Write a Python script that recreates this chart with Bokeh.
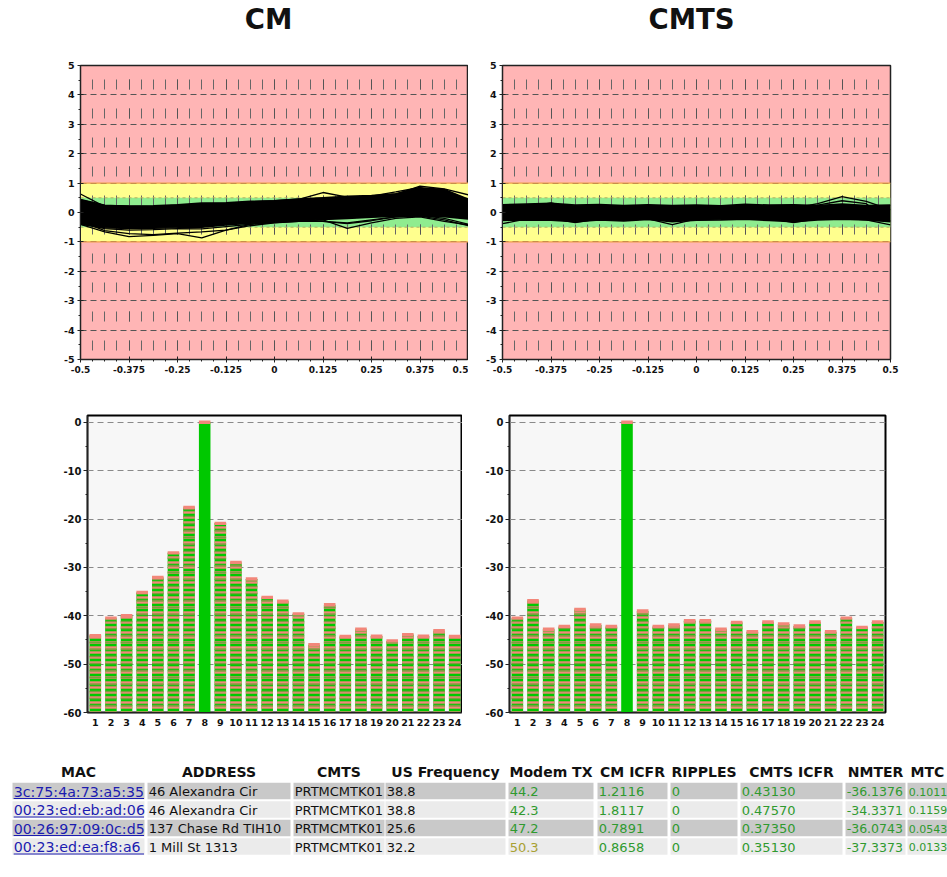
from bokeh.plotting import figure
from bokeh.layouts import column, row
from bokeh.models import Range1d, FixedTicker, BoxAnnotation, Span, ColumnDataSource
from bokeh.embed import file_html
from bokeh.resources import INLINE
from bokeh.core.properties import value, field

# ------------------------------------------------------------------ data
TITLES = ["CM", "CMTS"]

EQ_X = [-0.5, -0.4375, -0.375, -0.3125, -0.25, -0.1875, -0.125, -0.0625, 0.0,
        0.0625, 0.125, 0.1875, 0.25, 0.3125, 0.375, 0.4375, 0.5]

CM_UPPER = [0.42, 0.24, 0.22, 0.23, 0.26, 0.32, 0.33, 0.38, 0.40, 0.46, 0.50, 0.55, 0.58, 0.64, 0.84, 0.78, 0.45]
CM_LOWER = [-0.40, -0.52, -0.54, -0.53, -0.52, -0.50, -0.42, -0.36, -0.32, -0.28, -0.24, -0.20, -0.16, -0.13, -0.12, -0.14, -0.22]
CM_OUTLIERS = [
    [-0.30, -0.62, -0.72, -0.75, -0.70, -0.66, -0.60, -0.45, -0.35, -0.30, -0.30, -0.35, -0.25, -0.15, -0.10, -0.20, -0.40],
    [-0.40, -0.66, -0.82, -0.78, -0.72, -0.86, -0.60, -0.40, -0.34, -0.30, -0.25, -0.54, -0.35, -0.20, -0.15, -0.30, -0.42],
    [0.63, 0.20, 0.18, 0.20, 0.22, 0.30, 0.28, 0.36, 0.40, 0.45, 0.68, 0.52, 0.55, 0.62, 0.90, 0.80, 0.60],
    [0.45, 0.25, 0.22, 0.20, 0.25, 0.22, 0.30, 0.35, 0.38, 0.42, 0.50, 0.50, 0.56, 0.70, 0.85, 0.62, 0.45],
    [-0.38, -0.55, -0.60, -0.58, -0.55, -0.56, -0.48, -0.40, -0.32, -0.28, -0.30, -0.38, -0.28, -0.15, -0.12, -0.25, -0.45],
]

CMTS_UPPER = [0.26, 0.29, 0.31, 0.25, 0.27, 0.24, 0.26, 0.24, 0.25, 0.23, 0.28, 0.25, 0.26, 0.24, 0.29, 0.24, 0.25]
CMTS_LOWER = [-0.27, -0.25, -0.26, -0.31, -0.25, -0.29, -0.24, -0.31, -0.26, -0.25, -0.23, -0.27, -0.31, -0.25, -0.23, -0.25, -0.31]
CMTS_OUTLIERS = [
    [-0.38, -0.22, -0.20, -0.34, -0.22, -0.20, -0.22, -0.41, -0.22, -0.20, -0.22, -0.20, -0.34, -0.22, -0.20, -0.25, -0.42],
    [0.15, 0.12, 0.12, 0.12, 0.10, 0.12, 0.10, 0.12, 0.10, 0.12, 0.12, 0.15, 0.15, 0.30, 0.54, 0.38, 0.10],
    [0.10, 0.18, 0.33, 0.15, 0.12, 0.15, 0.15, 0.12, 0.18, 0.15, 0.15, 0.12, 0.20, 0.25, 0.40, 0.30, -0.30],
]

EQ_TICKS = [-0.5, -0.375, -0.25, -0.125, 0.0, 0.125, 0.25, 0.375, 0.5]
EQ_TICK_LABELS = ["-0.5", "-0.375", "-0.25", "-0.125", "0", "0.125", "0.25", "0.375", "0.5"]
EQ_Y_TICKS = [-5, -4, -3, -2, -1, 0, 1, 2, 3, 4, 5]
EQ_Y_LABELS = ["-5", "-4", "-3", "-2", "-1", "0", "1", "2", "3", "4", "5"]

TAPS = list(range(1, 25))
CM_TAPS = [-44.1, -40.5, -40.0, -35.2, -32.1, -27.0, -17.6, 0.0, -20.9, -29.0, -32.4, -36.2,
           -37.0, -39.6, -46.0, -37.7, -44.3, -42.8, -44.2, -45.2, -43.9, -44.2, -43.1, -44.3]
CMTS_TAPS = [-40.5, -36.9, -42.8, -42.2, -38.7, -41.9, -42.2, 0.0, -39.0, -42.2, -41.9, -41.0,
             -41.0, -42.8, -41.4, -43.3, -41.3, -41.7, -42.1, -41.3, -43.3, -40.5, -42.4, -41.3]
MAIN_TAP = 8
TAP_Y_TICKS = [-60, -50, -40, -30, -20, -10, 0]
TAP_Y_LABELS = ["-60", "-50", "-40", "-30", "-20", "-10", "0"]

HEADERS = ["MAC", "ADDRESS", "CMTS", "US Frequency", "Modem TX", "CM ICFR", "RIPPLES", "CMTS ICFR", "NMTER", "MTC"]
MAC = ["3c:75:4a:73:a5:35", "00:23:ed:eb:ad:06", "00:26:97:09:0c:d5", "00:23:ed:ea:f8:a6"]
ADDRESS = ["46 Alexandra Cir", "46 Alexandra Cir", "137 Chase Rd TIH10", "1 Mill St 1313"]
CMTS_NAME = ["PRTMCMTK01", "PRTMCMTK01", "PRTMCMTK01", "PRTMCMTK01"]
US_FREQ = ["38.8", "38.8", "25.6", "32.2"]
MODEM_TX = ["44.2", "42.3", "47.2", "50.3"]
CM_ICFR = ["1.2116", "1.8117", "0.7891", "0.8658"]
RIPPLES = ["0", "0", "0", "0"]
CMTS_ICFR = ["0.43130", "0.47570", "0.37350", "0.35130"]
NMTER = ["-36.1376", "-34.3371", "-36.0743", "-37.3373"]
MTC = ["0.1011", "0.1159", "0.0543", "0.0133"]

# ------------------------------------------------------------------ style
FONT = "DejaVu Sans"
PINK = "#ffb5b5"
YELLOW = "#ffff8e"
LGREEN = "#8fec8f"
BAR_GREEN = "#00c800"
SALMON = "#f2877a"
OLIVE = "#7f9b3f"
PAGE_W = 947


def style_axis(ax, size):
    ax.major_label_text_font = FONT
    ax.major_label_text_font_style = "bold"
    ax.major_label_text_font_size = size
    ax.major_label_text_color = "#111111"
    ax.axis_line_color = "#222222"
    ax.major_tick_line_color = "#222222"
    ax.minor_tick_line_color = "#222222"


def title_fig():
    t = figure(width=PAGE_W, height=46, x_range=Range1d(0, PAGE_W), y_range=Range1d(46, 0),
               output_backend="svg", toolbar_location=None, min_border=0,
               x_axis_location=None, y_axis_location=None)
    t.grid.visible = False
    t.outline_line_color = None
    t.text(x=[268, 691], y=[18, 18], text=TITLES, text_align="center", text_baseline="middle",
           text_font=value(FONT), text_font_size="27.5px", text_font_style="bold",
           text_color="#111111")
    return t


def eq_chart(upper, lower, outliers, bl, br, width):
    p = figure(width=width, height=333, x_range=Range1d(-0.5, 0.5), y_range=Range1d(-5, 5),
               output_backend="svg", toolbar_location=None,
               min_border_left=bl, min_border_right=br, min_border_top=19, min_border_bottom=20)
    p.background_fill_color = PINK
    p.border_fill_color = "white"
    p.outline_line_color = "#222222"
    p.outline_line_width = 1.5
    p.add_layout(BoxAnnotation(bottom=-1, top=1, fill_color=YELLOW, fill_alpha=1.0,
                               line_color=None, level="image"))
    p.add_layout(BoxAnnotation(bottom=-0.5, top=0.5, fill_color=LGREEN, fill_alpha=1.0,
                               line_color=None, level="image"))
    for loc in (1, -1):
        p.add_layout(Span(location=loc, dimension="width", line_color="#f0a048",
                          line_width=1.2, level="underlay"))
    for loc in (0.5, -0.5):
        p.add_layout(Span(location=loc, dimension="width", line_color="#b8b060",
                          line_width=1, line_dash="3 3", level="underlay"))

    xt = FixedTicker(ticks=EQ_TICKS, minor_ticks=[i / 32 - 0.5 for i in range(33)])
    yt = FixedTicker(ticks=EQ_Y_TICKS, minor_ticks=[i / 2 - 5 for i in range(21)])
    p.xaxis.ticker = xt
    p.yaxis.ticker = yt
    p.xgrid.ticker = xt
    p.ygrid.ticker = yt
    p.xaxis.major_label_overrides = dict(zip(EQ_TICKS, EQ_TICK_LABELS))
    p.yaxis.major_label_overrides = dict(zip(EQ_Y_TICKS, EQ_Y_LABELS))

    p.xgrid.grid_line_color = "#555555"
    p.xgrid.grid_line_dash = "10 19"
    p.xgrid.grid_line_dash_offset = 20
    p.xgrid.minor_grid_line_color = "#666666"
    p.xgrid.minor_grid_line_dash = "10 19"
    p.xgrid.minor_grid_line_dash_offset = 20
    p.ygrid.grid_line_color = "#555555"
    p.ygrid.grid_line_dash = "6 4"

    style_axis(p.xaxis[0], "9px")
    style_axis(p.yaxis[0], "9.5px")
    for ax in (p.xaxis[0], p.yaxis[0]):
        ax.major_tick_in = 3
        ax.major_tick_out = 3
        ax.minor_tick_in = 0
        ax.minor_tick_out = 2
    p.xaxis.major_label_standoff = 3
    p.yaxis.major_label_standoff = 3

    p.varea(x=EQ_X, y1=lower, y2=upper, fill_color="black")
    p.line(x=EQ_X, y=upper, line_color="black", line_width=1.6)
    p.line(x=EQ_X, y=lower, line_color="black", line_width=1.6)
    p.multi_line(xs=[EQ_X] * len(outliers), ys=outliers, line_color="black", line_width=1.3)
    return p


def tap_chart(vals, bl, br, width):
    p = figure(width=width, height=355, x_range=Range1d(0.5, 24.5), y_range=Range1d(-60, 1.4),
               output_backend="svg", toolbar_location=None,
               min_border_left=bl, min_border_right=br, min_border_top=36, min_border_bottom=22)
    p.background_fill_color = "#f7f7f7"
    p.border_fill_color = "white"
    p.outline_line_color = "black"
    p.outline_line_width = 2
    hatch = [" " if t == MAIN_TAP else "-" for t in TAPS]
    src = ColumnDataSource(dict(x=TAPS, top=vals, hatch=hatch,
                                cap_top=[v + 0.35 for v in vals],
                                cap_bot=[v - 0.35 for v in vals]))
    p.vbar(x="x", top="top", bottom=-60, width=0.74, source=src,
           fill_color=BAR_GREEN, line_color=None)
    p.vbar(x="x", top="top", bottom=-60, width=0.74, source=src,
           fill_alpha=0, line_color=None, hatch_pattern=field("hatch"),
           hatch_color=SALMON, hatch_scale=5, hatch_weight=2.4)
    p.vbar(x="x", top="top", bottom=-60, width=0.74, source=src,
           fill_alpha=0, line_color=None, hatch_pattern=field("hatch"),
           hatch_color=OLIVE, hatch_scale=7, hatch_weight=1.5)
    p.vbar(x="x", top="cap_top", bottom="cap_bot", width=0.74, source=src,
           fill_color=SALMON, line_color=None)

    yt = FixedTicker(ticks=TAP_Y_TICKS, minor_ticks=[-55, -45, -35, -25, -15, -5])
    p.yaxis.ticker = yt
    p.ygrid.ticker = yt
    p.yaxis.major_label_overrides = dict(zip(TAP_Y_TICKS, TAP_Y_LABELS))
    p.xaxis.ticker = FixedTicker(ticks=TAPS, minor_ticks=[])
    p.xgrid.visible = False
    p.ygrid.grid_line_color = "#8a8a8a"
    p.ygrid.grid_line_dash = "6 4"
    style_axis(p.xaxis[0], "9.5px")
    style_axis(p.yaxis[0], "10px")
    p.xaxis.major_tick_in = 0
    p.xaxis.major_tick_out = 0
    p.xaxis.major_label_standoff = 6
    p.yaxis.major_tick_in = 0
    p.yaxis.major_tick_out = 4
    p.yaxis.minor_tick_in = 0
    p.yaxis.minor_tick_out = 2
    p.yaxis.major_label_standoff = 2
    return p


def table_fig():
    H = 143
    t = figure(width=PAGE_W, height=H, x_range=Range1d(0, PAGE_W), y_range=Range1d(H, 0),
               output_backend="svg", toolbar_location=None, min_border=0,
               x_axis_location=None, y_axis_location=None)
    t.grid.visible = False
    t.outline_line_color = None
    t.background_fill_color = "white"
    t.border_fill_color = "white"

    col_l = [12, 147, 293, 385, 508, 597, 670, 740, 845, 907]
    col_r = [144, 290, 384, 505, 593, 667, 737, 842, 905, 947]
    font_px = ["14.2px", "13px", "13px", "13px", "13px", "13px", "13px", "13px", "12.5px", "11px"]
    row_c = [56.5, 75, 93.5, 112]
    row_h = 16.5
    header_y = 37.5
    row_fill = ["#c9c9c9", "#ebebeb", "#c9c9c9", "#ebebeb"]

    columns = [MAC, ADDRESS, CMTS_NAME, US_FREQ, MODEM_TX, CM_ICFR, RIPPLES, CMTS_ICFR, NMTER, MTC]
    GREEN_T = "#2f9a2f"

    cx, cy, cw, cc = [], [], [], []
    tx, ty, tt, tc, ts = [], [], [], [], []
    for ci, vals in enumerate(columns):
        for ri, v in enumerate(vals):
            cx.append((col_l[ci] + col_r[ci]) / 2)
            cy.append(row_c[ri])
            cw.append(col_r[ci] - col_l[ci])
            cc.append(row_fill[ri])
            tx.append(col_l[ci] + 1.2)
            ty.append(row_c[ri] + 0.5)
            tt.append(v)
            ts.append(font_px[ci])
            if ci == 0:
                tc.append("#1c1cb0")
            elif ci in (1, 2, 3):
                tc.append("#111111")
            elif ci == 4 and float(v) > 50:
                tc.append("#a8a032")
            else:
                tc.append(GREEN_T)
    src = ColumnDataSource(dict(x=tx, y=ty, text=tt, color=tc, size=ts))
    t.rect(x=cx, y=cy, width=cw, height=row_h, fill_color=cc, line_color=None)
    t.text(x="x", y="y", text="text", text_color="color", text_font_size="size",
           text_font=value(FONT), text_baseline="middle", text_align="left", source=src)
    # link underline for MAC column
    t.segment(x0=[col_l[0] + 1.2] * len(MAC), x1=[col_r[0] - 0.5] * len(MAC),
              y0=[r + 7.5 for r in row_c], y1=[r + 7.5 for r in row_c],
              line_color="#1c1cb0", line_width=1)
    t.text(x=[(l + r) / 2 for l, r in zip(col_l, col_r)], y=[header_y] * len(HEADERS),
           text=HEADERS, text_color="#111111", text_font=value(FONT), text_font_style="bold",
           text_font_size="14px", text_baseline="middle", text_align="center")
    return t


p0 = title_fig()
p1 = eq_chart(CM_UPPER, CM_LOWER, CM_OUTLIERS, bl=80, br=0, width=468)
p2 = eq_chart(CMTS_UPPER, CMTS_LOWER, CMTS_OUTLIERS, bl=34, br=57, width=479)
p3 = tap_chart(CM_TAPS, bl=87, br=0, width=462)
p4 = tap_chart(CMTS_TAPS, bl=47, br=62, width=485)
p5 = table_fig()

layout = column(p0, row(p1, p2), row(p3, p4), p5)
open("out.html", "w").write(file_html(layout, INLINE))
